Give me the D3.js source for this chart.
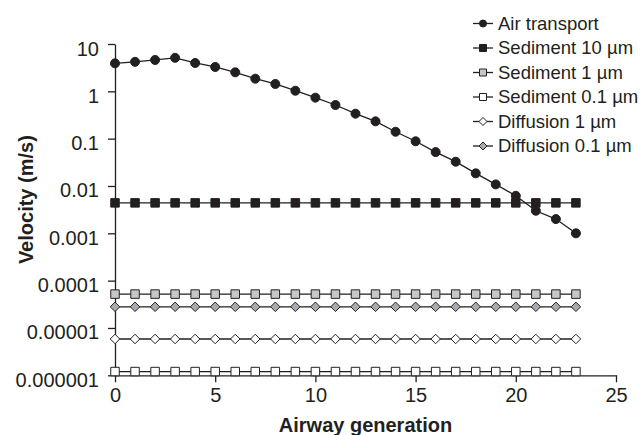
<!DOCTYPE html>
<html>
<head>
<meta charset="utf-8">
<script src="https://cdn.jsdelivr.net/npm/d3@7"></script>
<style>
  body { margin: 0; background: #fff; }
  svg { font-family: "Liberation Sans", Arial, sans-serif; }
</style>
</head>
<body>
<div id="chart"></div>
<script>
const width = 640;
const height = 435;
const margin = { top: 44, right: 24, bottom: 60, left: 115 };

const generations = [0, 1, 2, 3, 4, 5, 6, 7, 8, 9, 10, 11, 12, 13, 14, 15, 16, 17, 18, 19, 20, 21, 22, 23];
const airTransport = [3.9, 4.2, 4.6, 5.1, 3.97, 3.27, 2.52, 1.85, 1.43, 1.03, 0.735, 0.514, 0.337, 0.232, 0.14, 0.088, 0.052, 0.0326, 0.0185, 0.0108, 0.0062, 0.003, 0.002, 0.001];
const sediment10 = [0.0044, 0.0044, 0.0044, 0.0044, 0.0044, 0.0044, 0.0044, 0.0044, 0.0044, 0.0044, 0.0044, 0.0044, 0.0044, 0.0044, 0.0044, 0.0044, 0.0044, 0.0044, 0.0044, 0.0044, 0.0044, 0.0044, 0.0044, 0.0044];
const sediment1 = [5.2e-5, 5.2e-5, 5.2e-5, 5.2e-5, 5.2e-5, 5.2e-5, 5.2e-5, 5.2e-5, 5.2e-5, 5.2e-5, 5.2e-5, 5.2e-5, 5.2e-5, 5.2e-5, 5.2e-5, 5.2e-5, 5.2e-5, 5.2e-5, 5.2e-5, 5.2e-5, 5.2e-5, 5.2e-5, 5.2e-5, 5.2e-5];
const sediment01 = [1.2e-6, 1.2e-6, 1.2e-6, 1.2e-6, 1.2e-6, 1.2e-6, 1.2e-6, 1.2e-6, 1.2e-6, 1.2e-6, 1.2e-6, 1.2e-6, 1.2e-6, 1.2e-6, 1.2e-6, 1.2e-6, 1.2e-6, 1.2e-6, 1.2e-6, 1.2e-6, 1.2e-6, 1.2e-6, 1.2e-6, 1.2e-6];
const diffusion1 = [5.85e-6, 5.85e-6, 5.85e-6, 5.85e-6, 5.85e-6, 5.85e-6, 5.85e-6, 5.85e-6, 5.85e-6, 5.85e-6, 5.85e-6, 5.85e-6, 5.85e-6, 5.85e-6, 5.85e-6, 5.85e-6, 5.85e-6, 5.85e-6, 5.85e-6, 5.85e-6, 5.85e-6, 5.85e-6, 5.85e-6, 5.85e-6];
const diffusion01 = [2.8e-5, 2.8e-5, 2.8e-5, 2.8e-5, 2.8e-5, 2.8e-5, 2.8e-5, 2.8e-5, 2.8e-5, 2.8e-5, 2.8e-5, 2.8e-5, 2.8e-5, 2.8e-5, 2.8e-5, 2.8e-5, 2.8e-5, 2.8e-5, 2.8e-5, 2.8e-5, 2.8e-5, 2.8e-5, 2.8e-5, 2.8e-5];

const seriesNames = ['Air transport', 'Sediment 10 µm', 'Sediment 1 µm', 'Sediment 0.1 µm', 'Diffusion 1 µm', 'Diffusion 0.1 µm'];
const xTickValues = [0, 5, 10, 15, 20, 25];
const yTickValues = [10, 1, 0.1, 0.01, 0.001, 0.0001, 0.00001, 0.000001];
const yTickLabels = ['10', '1', '0.1', '0.01', '0.001', '0.0001', '0.00001', '0.000001'];

const ink = '#231f20';
const lightGrey = '#c4c8cc';
const midGrey = '#a7abaf';

// one style per series, same order as seriesNames
const styles = [
  { values: airTransport, shape: 'circle', fill: ink },
  { values: sediment10, shape: 'square', fill: ink },
  { values: sediment1, shape: 'square', fill: lightGrey },
  { values: sediment01, shape: 'square', fill: '#fff' },
  { values: diffusion1, shape: 'diamond', fill: '#fff' },
  { values: diffusion01, shape: 'diamond', fill: midGrey }
];
// draw order: air transport last so it sits on top
const drawOrder = [3, 4, 5, 2, 1, 0];

const x = d3.scaleLinear()
  .domain([0, 25])
  .range([margin.left, width - margin.right]);

const y = d3.scaleLog()
  .domain([0.000001, 10])
  .range([375.3, margin.top]);

const svg = d3.select('#chart')
  .append('svg')
  .attr('width', width)
  .attr('height', height);

const xAxis = svg.append('g')
  .attr('transform', `translate(0,${y(0.000001)})`)
  .call(d3.axisBottom(x).tickValues(xTickValues).tickSize(7).tickPadding(6).tickSizeOuter(0));

const yAxis = svg.append('g')
  .attr('transform', `translate(${margin.left},0)`)
  .call(d3.axisLeft(y).tickValues(yTickValues).tickFormat((d, i) => yTickLabels[i]).tickSize(7).tickPadding(9).tickSizeOuter(0));

[xAxis, yAxis].forEach(g => {
  g.selectAll('path, line').attr('stroke', ink).attr('stroke-width', 1.3);
  g.selectAll('text').attr('fill', ink).style('font-size', '20px');
});
yAxis.selectAll('text').attr('dy', '0.55em');

svg.append('text')
  .attr('x', (x(0) + x(25)) / 2)
  .attr('y', 432)
  .attr('text-anchor', 'middle')
  .attr('fill', ink)
  .style('font-size', '20px')
  .style('font-weight', 'bold')
  .text('Airway generation');

svg.append('text')
  .attr('transform', `translate(33,${(y(10) + y(0.000001)) / 2 - 10}) rotate(-90)`)
  .attr('text-anchor', 'middle')
  .attr('fill', ink)
  .style('font-size', '20px')
  .style('font-weight', 'bold')
  .text('Velocity (m/s)');

const symbolPath = (shape, size) => {
  const h = size / 2;
  if (shape === 'square') return `M${-h},${-h}H${h}V${h}H${-h}Z`;
  if (shape === 'diamond') return `M0,${-h}L${h},0L0,${h}L${-h},0Z`;
  return d3.arc()({ innerRadius: 0, outerRadius: h, startAngle: 0, endAngle: 2 * Math.PI });
};

const line = d3.line()
  .x(d => x(d[0]))
  .y(d => y(d[1]));

const plot = svg.append('g');

drawOrder.forEach(i => {
  const s = styles[i];
  const pts = generations.map((g, j) => [g, s.values[j]]);
  const grp = plot.append('g');
  grp.append('path')
    .datum(pts)
    .attr('fill', 'none')
    .attr('stroke', ink)
    .attr('stroke-width', 1.3)
    .attr('d', line);
  const size = s.shape === 'circle' ? 9 : s.shape === 'square' ? 8.5 : 9.5;
  grp.selectAll('path.mark')
    .data(pts)
    .join('path')
    .attr('class', 'mark')
    .attr('transform', d => `translate(${x(d[0])},${y(d[1])})`)
    .attr('d', symbolPath(s.shape, size))
    .attr('fill', s.fill)
    .attr('stroke', ink)
    .attr('stroke-width', 1);
});

// legend
const legend = svg.append('g')
  .attr('transform', 'translate(473,23.5)');

const rowGap = 24.5;
seriesNames.forEach((name, i) => {
  const s = styles[i];
  const row = legend.append('g').attr('transform', `translate(0,${i * rowGap})`);
  row.append('line')
    .attr('x1', 0).attr('x2', 20)
    .attr('stroke', ink)
    .attr('stroke-width', 1.3);
  const size = s.shape === 'diamond' ? 8 : 7;
  row.append('path')
    .attr('transform', 'translate(10,0)')
    .attr('d', symbolPath(s.shape, size))
    .attr('fill', s.fill)
    .attr('stroke', ink)
    .attr('stroke-width', 1);
  row.append('text')
    .attr('x', 25)
    .attr('dy', '0.35em')
    .attr('fill', ink)
    .style('font-size', '18.5px')
    .text(name);
});
</script>
</body>
</html>
